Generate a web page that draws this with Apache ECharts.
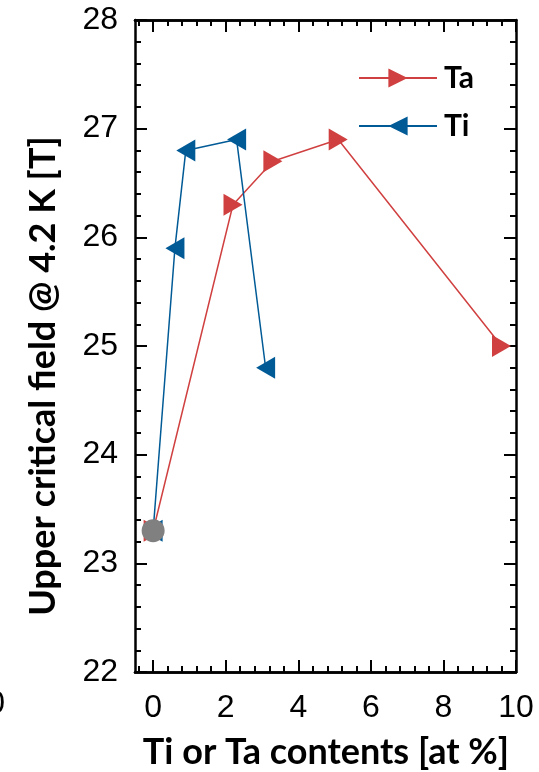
<!DOCTYPE html>
<html><head><meta charset="utf-8">
<script src="https://cdn.jsdelivr.net/npm/echarts@6/dist/echarts.min.js"></script>
<style>html,body{margin:0;padding:0;background:#fff}#c{width:539px;height:772px}</style>
</head><body><div id="c"></div>
<script>
const taX = [0, 2.2, 3.3, 5.1, 9.6];
const taY = [23.3, 26.3, 26.7, 26.9, 25.0];
const tiX = [0, 0.6, 0.9, 2.3, 3.1];
const tiY = [23.3, 25.9, 26.8, 26.9, 24.8];
const originX = [0];
const originY = [23.3];
const xMajorTicks = [0, 2, 4, 6, 8, 10];
const xMinorTicks = [-0.4, 0.4, 0.8, 1.2, 1.6, 2.4, 2.8, 3.2, 3.6, 4.4, 4.8, 5.2, 5.6, 6.4, 6.8, 7.2, 7.6, 8.4, 8.8, 9.2, 9.6];
const yMin = 22, yMax = 28, yStep = 1;
const xMin = -0.5, xMax = 10;
const xTitle = 'Ti or Ta contents [at %]';
const yTitle = 'Upper critical field @ 4.2 K [T]';

const RED = '#d04040', BLUE = '#005a96';
const RIGHT_TRI = 'path://M0,0L19,11L0,22Z';
const LEFT_TRI = 'path://M19,0L0,11L19,22Z';
const zip = (a, b) => a.map((v, i) => [v, b[i]]);

const chart = echarts.init(document.getElementById('c'));
const axLine = { show: true, onZero: false, lineStyle: { color: '#000', width: 2.5 } };
const tickStyle = { color: '#000', width: 2 };
function xAx(pos, ticks, len, opts) {
  return Object.assign({
    type: 'value', position: pos, min: xMin, max: xMax, gridIndex: 0,
    axisLine: axLine,
    axisTick: { show: true, inside: true, length: len, lineStyle: tickStyle, customValues: ticks },
    axisLabel: { show: false },
    splitLine: { show: false }
  }, opts || {});
}
function yAx(pos, opts) {
  return Object.assign({
    type: 'value', position: pos, min: yMin, max: yMax, interval: yStep,
    axisLine: axLine,
    axisTick: { show: true, inside: true, length: 12, lineStyle: tickStyle },
    minorTick: { show: true, splitNumber: 5, length: 6, lineStyle: tickStyle },
    axisLabel: { show: false },
    splitLine: { show: false }
  }, opts || {});
}
chart.setOption({
  animation: false,
  grid: { left: 135, right: 23, top: 20, bottom: 100 },
  legend: {
    data: ['Ta', 'Ti'], orient: 'vertical', left: 358, top: 63,
    itemWidth: 78, itemHeight: 24, itemGap: 18, padding: 0,
    textStyle: { fontFamily: 'Lato', fontWeight: 'bold', fontSize: 30, color: '#000', padding: [0, 0, 0, 2] }
  },
  xAxis: [
    xAx('bottom', xMajorTicks, 12, {
      axisLabel: { show: true, customValues: xMajorTicks, fontSize: 32, color: '#000', margin: 20, fontFamily: 'Liberation Sans' }
    }),
    xAx('bottom', xMinorTicks, 6),
    xAx('top', xMajorTicks, 12),
    xAx('top', xMinorTicks, 6)
  ],
  yAxis: [
    yAx('left', {
      axisLabel: { show: true, fontSize: 32, color: '#000', margin: 17, fontFamily: 'Liberation Sans' }
    }),
    yAx('right')
  ],
  graphic: [
    { type: 'text', x: 5, y: 704, style: { text: '0', fontSize: 32, fill: '#000', fontFamily: 'Liberation Sans', align: 'right', verticalAlign: 'middle' } },
    { type: 'text', x: 326, y: 752, style: { text: xTitle, fontSize: 36, fontWeight: 'bold', fill: '#000', fontFamily: 'Lato', align: 'center', verticalAlign: 'middle' } },
    { type: 'text', x: 43, y: 376, rotation: Math.PI / 2, style: { text: yTitle, fontSize: 36, fontWeight: 'bold', fill: '#000', fontFamily: 'Lato', align: 'center', verticalAlign: 'middle' } }
  ],
  series: [
    { name: 'Ta', type: 'line', xAxisIndex: 0, yAxisIndex: 0, data: zip(taX, taY),
      symbol: RIGHT_TRI, symbolSize: [19, 22], lineStyle: { color: RED, width: 1.5 },
      itemStyle: { color: RED }, z: 3 },
    { name: 'Ti', type: 'line', xAxisIndex: 0, yAxisIndex: 0, data: zip(tiX, tiY),
      symbol: LEFT_TRI, symbolSize: [19, 22], lineStyle: { color: BLUE, width: 1.5 },
      itemStyle: { color: BLUE }, z: 4 },
    { name: 'Nb3Sn', type: 'scatter', xAxisIndex: 0, yAxisIndex: 0, data: zip(originX, originY),
      symbol: 'circle', symbolSize: 23, itemStyle: { color: '#808080', opacity: 1 }, z: 5 }
  ]
});
</script></body></html>
